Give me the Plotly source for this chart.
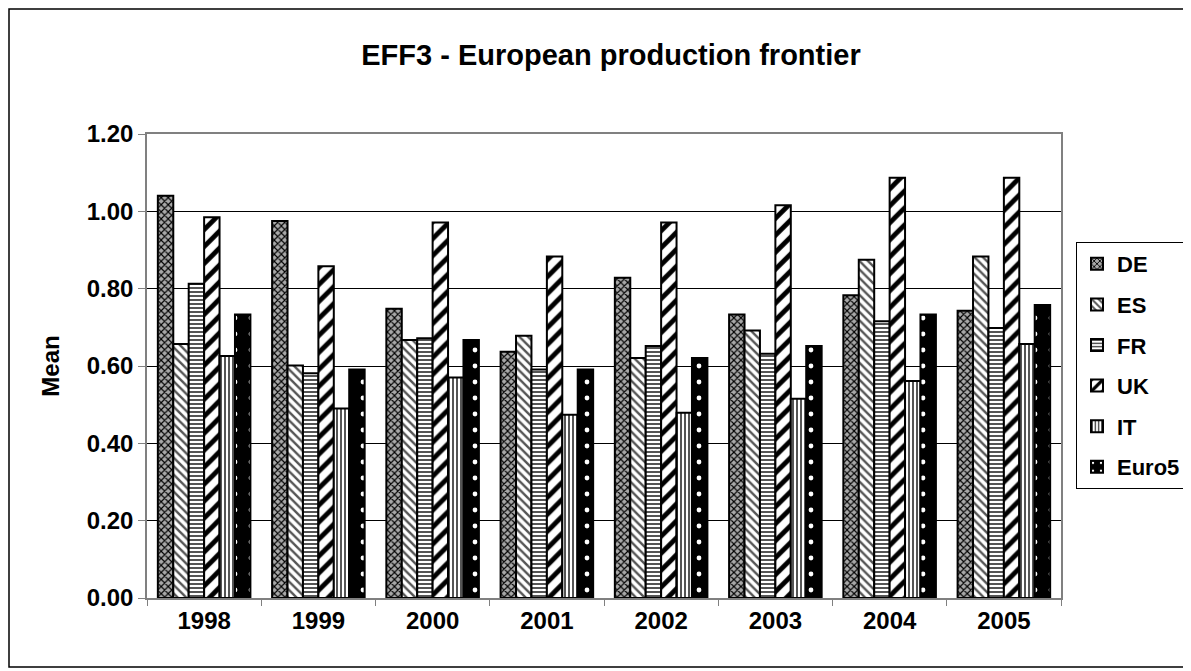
import plotly.graph_objects as go

years = ["1998", "1999", "2000", "2001", "2002", "2003", "2004", "2005"]
series_names = ["DE", "ES", "FR", "UK", "IT", "Euro5"]
de = [1.04, 0.975, 0.748, 0.637, 0.828, 0.733, 0.783, 0.743]
es = [0.657, 0.601, 0.667, 0.678, 0.621, 0.692, 0.875, 0.883]
fr = [0.813, 0.581, 0.672, 0.591, 0.652, 0.632, 0.716, 0.698]
uk = [0.985, 0.858, 0.971, 0.883, 0.971, 1.016, 1.087, 1.087]
it = [0.626, 0.490, 0.570, 0.474, 0.479, 0.515, 0.561, 0.657]
euro5 = [0.733, 0.591, 0.667, 0.591, 0.621, 0.652, 0.733, 0.758]
values = [de, es, fr, uk, it, euro5]

patterns = [
    dict(shape="x", bgcolor="#a8a8a8", fgcolor="#000000", size=5, solidity=0.4, fillmode="replace"),
    dict(shape="\\", bgcolor="#ffffff", fgcolor="#555555", size=6, solidity=0.4, fillmode="replace"),
    dict(shape="-", bgcolor="#ffffff", fgcolor="#555555", size=4, solidity=0.5, fillmode="replace"),
    dict(shape="/", bgcolor="#ffffff", fgcolor="#000000", size=12, solidity=0.4, fillmode="replace"),
    dict(shape="|", bgcolor="#ffffff", fgcolor="#555555", size=4, solidity=0.5, fillmode="replace"),
    dict(shape=".", bgcolor="#000000", fgcolor="#ffffff", size=16, solidity=0.07, fillmode="replace"),
]

fig = go.Figure()
for name, vals, pat in zip(series_names, values, patterns):
    fig.add_trace(go.Bar(
        x=years, y=vals, name="<b>%s</b>" % name, legendgroup=name,
        marker=dict(pattern=pat, line=dict(color="#000000", width=2)),
    ))

OFF = 8  # page body margin: screen = figure + OFF
W, H = 1191 - OFF, 671 - OFF
# target screen positions of the plot area
SL, SR, ST, SB = 147, 1061, 134, 598
L, R, T, B = SL - OFF, SR - OFF, ST - OFF, SB - OFF
pw, ph = R - L, B - T

def px(x):
    return (x - OFF - L) / pw

def py(y):
    return (B - (y - OFF)) / ph

font = "Liberation Sans, Arial, sans-serif"
fig.update_layout(
    width=W, height=H,
    margin=dict(l=L, r=W - R, t=T, b=H - B, autoexpand=False),
    paper_bgcolor="white", plot_bgcolor="white",
    barmode="group", bargap=0.19, bargroupgap=0,
    font=dict(family=font, size=24, color="black"),
    title=dict(text="<b>EFF3 - European production frontier</b>", x=(611 - OFF) / W, xanchor="center",
               y=1 - (55 - OFF) / H, yanchor="middle", font=dict(size=29, family=font)),
    showlegend=True,
    legend=dict(x=px(1076), y=py(242), xanchor="left", yanchor="top",
                bordercolor="black", borderwidth=1, tracegroupgap=9,
                font=dict(size=22, family=font), itemwidth=30),
    shapes=[dict(type="rect", xref="paper", yref="paper",
                 x0=px(9), x1=px(1187), y0=py(667), y1=py(9),
                 line=dict(color="black", width=1.5), fillcolor="rgba(0,0,0,0)", layer="below")],
)

fig.update_xaxes(type="category", tickson="boundaries", ticks="outside", ticklen=6,
                 tickcolor="#808080", showline=True, linecolor="#808080", linewidth=1.5,
                 mirror=True, showgrid=False,
                 tickfont=dict(size=24, family=font),
                 tickvals=years, ticktext=["<b>%s</b>" % y for y in years])

yt = [0, 0.2, 0.4, 0.6, 0.8, 1.0, 1.2]
fig.update_yaxes(range=[0, 1.2], tickvals=yt, ticktext=["<b>%.2f</b>" % v for v in yt],
                 ticks="outside", ticklen=7, tickcolor="#808080",
                 showline=True, linecolor="#808080", linewidth=1.5, mirror=True,
                 showgrid=True, gridcolor="#000000", gridwidth=1,
                 zeroline=False,
                 title=dict(text="<b>Mean</b>", font=dict(size=24, family=font), standoff=20),
                 tickfont=dict(size=24, family=font))

fig.write_html("out.html")
